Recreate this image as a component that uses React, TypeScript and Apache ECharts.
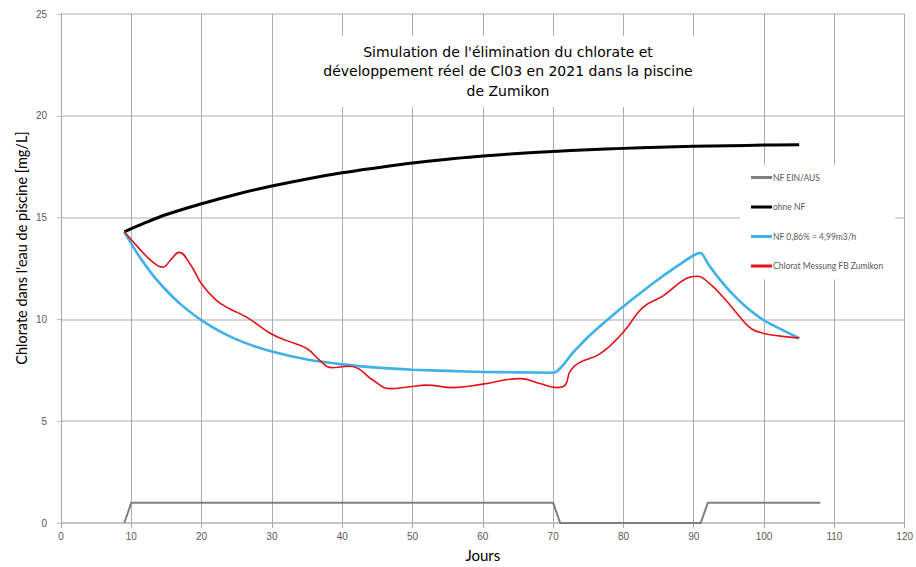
import React, { useEffect, useRef } from "react";
import * as echarts from "echarts";

const titleLines = [
  "Simulation de l'élimination du chlorate et",
  "développement réel de Cl03 en 2021 dans la piscine",
  "de Zumikon",
];
const xAxisTitle = "Jours";
const yAxisTitle = "Chlorate dans l'eau de piscine [mg/L]";

const seriesNames = [
  "NF EIN/AUS",
  "ohne NF",
  "NF 0,86% = 4,99m3/h",
  "Chlorat Messung FB Zumikon",
];

// NF EIN/AUS (on/off)
const nfDays = [9, 10, 70, 71, 91, 92, 108];
const nfValues = [0, 1, 1, 0, 0, 1, 1];

// ohne NF (black)
const ohneDays = [9, 12, 15, 20, 25, 30, 35, 40, 45, 50, 55, 60, 65, 70, 75, 80, 85, 90, 95, 100, 105];
const ohneValues = [14.3, 14.75, 15.15, 15.68, 16.15, 16.55, 16.9, 17.2, 17.45, 17.68, 17.87, 18.02, 18.15, 18.25, 18.33, 18.4, 18.46, 18.5, 18.53, 18.56, 18.58];

// NF 0,86% (blue)
const blueDays = [9, 11, 13, 15, 17, 20, 23, 26, 30, 35, 40, 45, 50, 55, 60, 65, 70, 72.9, 75, 77.6, 80.2, 84.7, 88, 90, 91, 92, 93.5, 95.5, 97.5, 100, 102.5, 105];
const blueValues = [14.3, 13.16, 12.2, 11.42, 10.75, 9.95, 9.34, 8.87, 8.42, 8.03, 7.79, 7.63, 7.53, 7.47, 7.42, 7.4, 7.38, 8.4, 9.15, 9.95, 10.7, 11.9, 12.7, 13.15, 13.26, 12.75, 12.05, 11.25, 10.6, 9.95, 9.5, 9.08];

// Chlorat Messung (red)
const redDays = [9, 11.2, 13.1, 14.5, 15.5, 16.8, 18.4, 20, 22.1, 24, 26.4, 29.7, 32, 35, 36.8, 38.5, 41, 42.3, 44.4, 46.8, 49.6, 52, 55.8, 60, 65.3, 68.1, 70.5, 71.7, 72.4, 73.6, 76.7, 80, 82.8, 85.7, 89, 90.5, 92.3, 94.2, 96.6, 98.2, 100.1, 102.3, 105];
const redValues = [14.3, 13.45, 12.8, 12.56, 12.88, 13.29, 12.7, 11.74, 10.93, 10.52, 10.11, 9.33, 8.97, 8.56, 7.99, 7.63, 7.7, 7.58, 7.01, 6.6, 6.69, 6.77, 6.65, 6.82, 7.09, 6.85, 6.65, 6.77, 7.45, 7.85, 8.32, 9.38, 10.6, 11.17, 12.02, 12.12, 11.74, 11.09, 10.11, 9.54, 9.3, 9.18, 9.08];

const pairs = (xs: number[], ys: number[]) => xs.map((x, i) => [x, ys[i]]);

export default function App() {
  const ref = useRef<HTMLDivElement>(null);
  useEffect(() => {
    if (!ref.current) return;
    const chart = echarts.init(ref.current, undefined, { renderer: "svg" });
    const labelFont = "Liberation Sans, Arial, sans-serif";
    chart.setOption({
      animation: false,
      backgroundColor: "#ffffff",
      grid: { left: 61, right: 10, top: 14, bottom: 40, containLabel: false },
      xAxis: {
        type: "value",
        min: 0,
        max: 120,
        interval: 10,
        name: xAxisTitle,
        nameLocation: "middle",
        nameGap: 24,
        nameTextStyle: { fontSize: 15, fontFamily: "Lato", color: "#000" },
        axisLine: { show: true, lineStyle: { color: "#bfbfbf", width: 1.5 } },
        axisTick: { show: true, length: 5, lineStyle: { color: "#a6a6a6" } },
        axisLabel: { fontSize: 10, color: "#595959", fontFamily: labelFont, margin: 8 },
        splitLine: { show: true, lineStyle: { color: "#ababab", width: 1 } },
      },
      yAxis: {
        type: "value",
        min: 0,
        max: 25,
        interval: 5,
        axisLine: { show: true, lineStyle: { color: "#a6a6a6", width: 1 } },
        axisTick: { show: true, length: 4, lineStyle: { color: "#bfbfbf" } },
        axisLabel: { fontSize: 10, color: "#595959", fontFamily: labelFont, margin: 14 },
        splitLine: { show: true, lineStyle: { color: "#c8c8c8", width: 1.5 } },
      },
      legend: {
        orient: "vertical",
        left: 740,
        top: 165,
        backgroundColor: "#ffffff",
        padding: [8, 12, 9, 11],
        itemGap: 20.5,
        itemWidth: 21,
        itemHeight: 3,
        icon: "rect",
        textStyle: { fontSize: 8.5, color: "#595959", fontFamily: "Lato", padding: [0, 0, 0, -4] },
        data: seriesNames,
      },
      series: [
        {
          name: seriesNames[0],
          type: "line",
          data: pairs(nfDays, nfValues),
          showSymbol: false,
          lineStyle: { color: "#7f7f7f", width: 2 },
          itemStyle: { color: "#7f7f7f" },
          z: 3,
        },
        {
          name: seriesNames[1],
          type: "line",
          data: pairs(ohneDays, ohneValues),
          showSymbol: false,
          smooth: 0.4,
          lineStyle: { color: "#000000", width: 3 },
          itemStyle: { color: "#000000" },
          z: 3,
        },
        {
          name: seriesNames[2],
          type: "line",
          data: pairs(blueDays, blueValues),
          showSymbol: false,
          smooth: 0.25,
          lineStyle: { color: "#3fb0e9", width: 2.6 },
          itemStyle: { color: "#3fb0e9" },
          z: 4,
        },
        {
          name: seriesNames[3],
          type: "line",
          data: pairs(redDays, redValues),
          showSymbol: false,
          smooth: 0.45,
          lineStyle: { color: "#e3101a", width: 1.6 },
          itemStyle: { color: "#e3101a" },
          z: 5,
        },
      ],
      graphic: [
        {
          type: "rect",
          z: 100,
          shape: { x: 300, y: 36, width: 415, height: 71 },
          style: { fill: "#ffffff" },
        },
        {
          type: "text",
          z: 101,
          x: 508,
          y: 71,
          style: {
            text: titleLines.join("\n"),
            align: "center",
            verticalAlign: "middle",
            fontSize: 14,
            lineHeight: 19.5,
            fontFamily: "DejaVu Sans",
            fill: "#000000",
          },
        },
        {
          type: "text",
          z: 101,
          x: 21,
          y: 248,
          rotation: Math.PI / 2,
          style: {
            text: yAxisTitle,
            align: "center",
            verticalAlign: "middle",
            fontSize: 14.5,
            fontFamily: "Lato",
            fill: "#000000",
          },
        },
      ],
    });
    return () => chart.dispose();
  }, []);
  return (
    <div
      ref={ref}
      style={{ position: "absolute", left: 0, top: 0, width: 916, height: 567 }}
    />
  );
}
